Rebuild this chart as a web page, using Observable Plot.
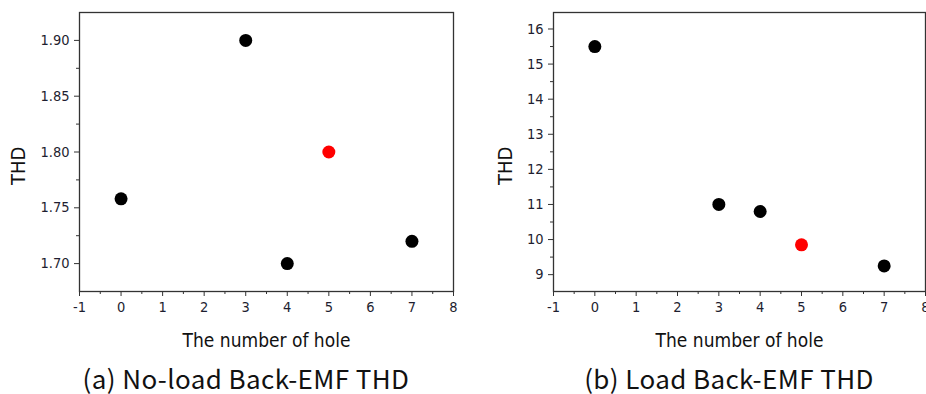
<!DOCTYPE html>
<html>
<head>
<meta charset="utf-8">
<script src="https://cdn.jsdelivr.net/npm/d3@7"></script>
<script src="https://cdn.jsdelivr.net/npm/@observablehq/plot@0.6"></script>
<style>
  html, body { margin: 0; padding: 0; background: #fff; overflow: hidden; }
  #wrap { position: relative; width: 926px; height: 394px; }
  .panel { position: absolute; top: 0; }
  .panel svg text { font-stretch: condensed; }
  .cap { position: absolute; font-family: "Noto Sans CJK KR", "Noto Sans", sans-serif; font-size: 26px; letter-spacing: 0.4px; color: #111; white-space: nowrap; line-height: 26px; transform: translateX(-50%); }
</style>
</head>
<body>
<div id="wrap">
  <div id="pa" class="panel" style="left:0px"></div>
  <div id="pb" class="panel" style="left:470px"></div>
  <div class="cap" style="left:246px; top:365px">(a) No-load Back-EMF THD</div>
  <div class="cap" style="left:729px; top:365px">(b) Load Back-EMF THD</div>
</div>
<script>
// ---- data ----
const holes = [0, 3, 4, 5, 7];
const noLoadTHD = [1.758, 1.90, 1.70, 1.80, 1.72];
const loadTHD = [15.5, 11.0, 10.8, 9.85, 9.25];
const highlightHole = 5;
const xTicks = [-1, 0, 1, 2, 3, 4, 5, 6, 7, 8];
const xMinorTicks = [-0.5, 0.5, 1.5, 2.5, 3.5, 4.5, 5.5, 6.5, 7.5];
const yTicksA = [1.70, 1.75, 1.80, 1.85, 1.90];
const yMinorA = [1.725, 1.775, 1.825, 1.875];
const yTicksB = [9, 10, 11, 12, 13, 14, 15, 16];
const yMinorB = [9.5, 10.5, 11.5, 12.5, 13.5, 14.5, 15.5];
const xTitle = "The number of hole";
const yTitle = "THD";

const FONT = "'DejaVu Sans', sans-serif";
const INK = "#1e1e30";

function panel(values, yDomain, yTicks, yMinor, yFmt, opts) {
  const data = holes.map((h, i) => ({hole: h, thd: values[i]}));
  return Plot.plot({
    width: opts.width,
    height: 360,
    marginLeft: opts.marginLeft,
    marginRight: opts.marginRight,
    marginTop: 12,
    marginBottom: 69,
    style: {fontFamily: FONT, fontSize: "14.5px", color: INK, overflow: "visible", background: "transparent"},
    x: {domain: [-1, 8]},
    y: {domain: yDomain},
    marks: [
      Plot.axisX({ticks: xTicks, tickSize: 5, tickPadding: 5, tickFormat: d => String(d), label: null, stroke: "#333", fill: INK}),
      Plot.axisX({ticks: xMinorTicks, tickSize: 3, tickFormat: () => "", label: null, stroke: "#333"}),
      Plot.axisY({ticks: yTicks, tickSize: 5, tickPadding: 5, tickFormat: yFmt, label: null, stroke: "#333", fill: INK}),
      Plot.axisY({ticks: yMinor, tickSize: 3, tickFormat: () => "", label: null, stroke: "#333"}),
      Plot.frame({stroke: "#333", strokeWidth: 1.3}),
      Plot.dot(data, {x: "hole", y: "thd", r: 6.5, fill: d => d.hole === highlightHole ? "#ff0000" : "#000", stroke: "none"}),
      Plot.text([xTitle], {text: d => d, frameAnchor: "bottom", dy: 55, fontSize: 19, fontFamily: FONT, fill: "#111"}),
      Plot.text([yTitle], {text: d => d, frameAnchor: "left", rotate: -90, dx: opts.yTitleDx, dy: 33, fontSize: 20, fontFamily: FONT, fill: "#111"})
    ]
  });
}

document.getElementById("pa").append(
  panel(noLoadTHD, [1.675, 1.925], yTicksA, yMinorA, d3.format(".2f"),
    {width: 470, marginLeft: 79, marginRight: 17, yTitleDx: -61})
);
document.getElementById("pb").append(
  panel(loadTHD, [8.52, 16.47], yTicksB, yMinorB, d => String(d),
    {width: 456, marginLeft: 83, marginRight: 1, yTitleDx: -48})
);
</script>
</body>
</html>
